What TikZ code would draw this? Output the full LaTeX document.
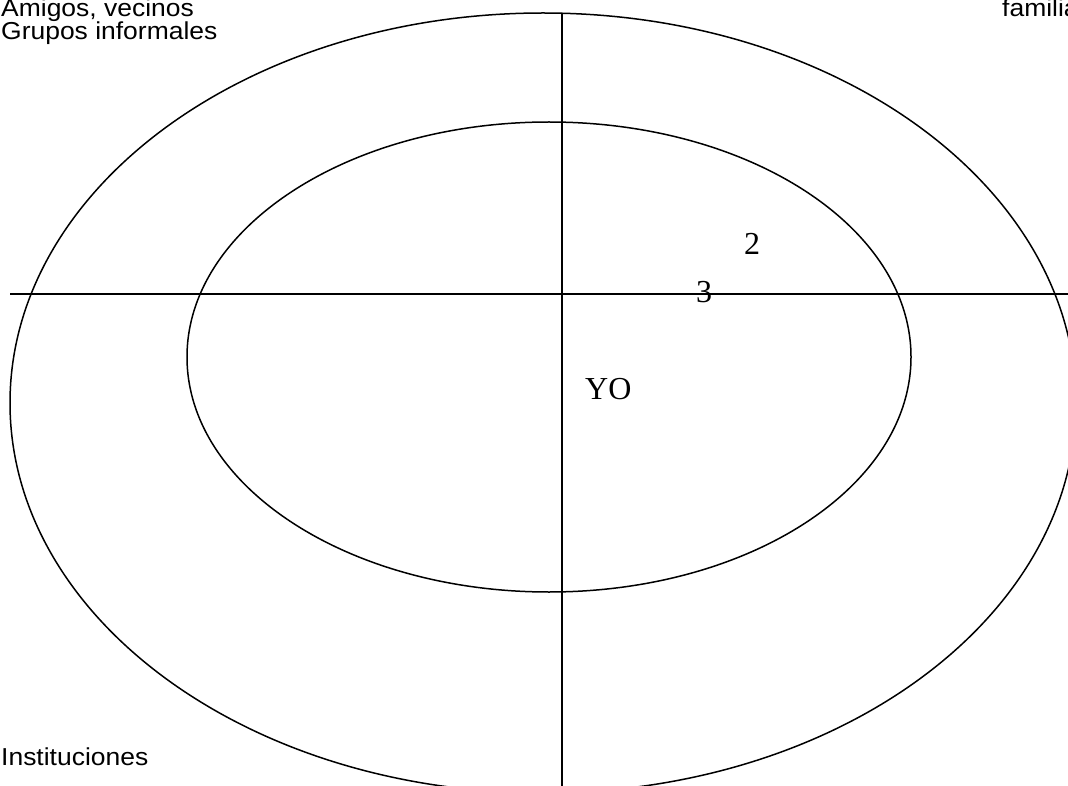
\documentclass[tikz,border=0pt]{standalone}
\usepackage{fontspec}
\newfontfamily\arialf{Liberation Sans}[FakeStretch=1.08]
\newfontfamily\timesf{Liberation Serif}
\begin{document}
\begin{tikzpicture}[x=1pt,y=-1pt,
  ln/.style={line width=1.5pt,black},
  sanslbl/.style={inner sep=0pt,anchor=base west,font=\arialf\fontsize{24.5}{22.5}\selectfont},
  seriflbl/.style={inner sep=0pt,anchor=base west,font=\timesf\fontsize{32}{36}\selectfont}]
\useasboundingbox (0,0) rectangle (1068,786);
% outer and inner ellipses
\coordinate (oc) at (543,403);
\coordinate (ic) at (549,357);
\draw[ln] (oc) ellipse [x radius=533pt, y radius=390pt];
\draw[ln] (ic) ellipse [x radius=362pt, y radius=235pt];
% axes
\coordinate (vtop) at (562,14);
\coordinate (vbot) at (562,790);
\coordinate (hl) at (10,294);
\coordinate (hr) at (1070,294);
\draw[ln] (vtop) -- (vbot);
\draw[ln] (hl) -- (hr);
% labels
\node[sanslbl] (amigos) at (1,17) {Amigos, vecinos};
\node[sanslbl] (grupos) at (1,39.5) {Grupos informales};
\node[sanslbl] (familia) at (1002,17) {familia};
\node[sanslbl] (inst) at (1,765) {Instituciones};
\node[seriflbl] (two) at (744,255) {2};
\node[seriflbl] (three) at (696,302) {3};
\node[seriflbl] (yo) at (585,399) {YO};
\end{tikzpicture}
\end{document}
